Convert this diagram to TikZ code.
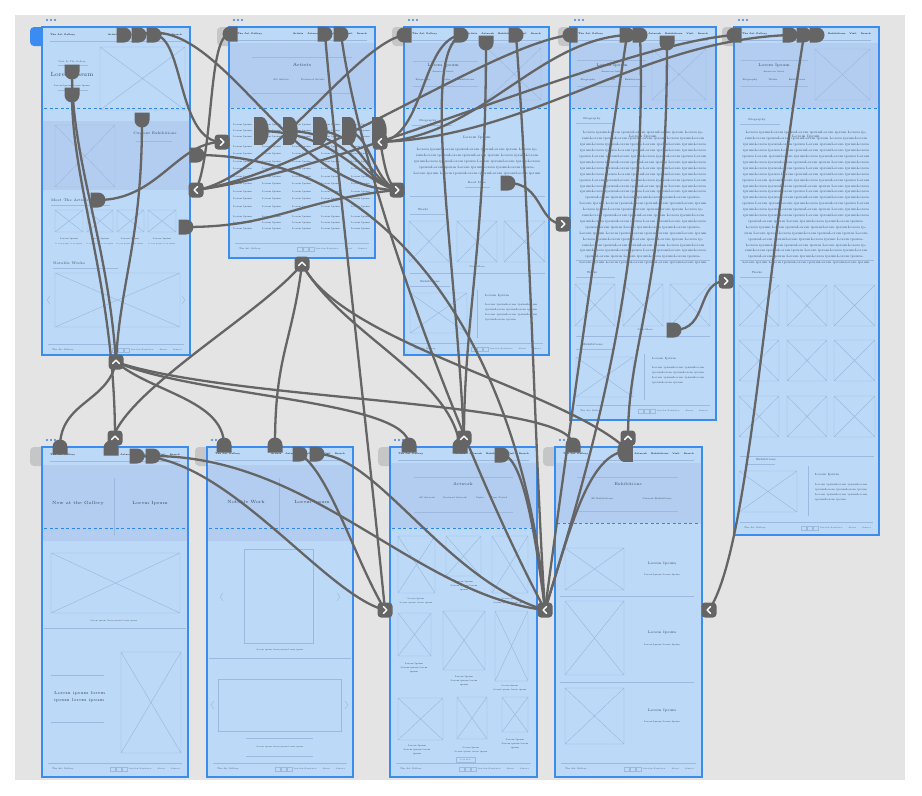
\documentclass[tikz,border=0pt]{standalone}
\usetikzlibrary{shapes.misc}
\definecolor{bgg}{HTML}{E4E4E4}
\definecolor{scrfill}{HTML}{BCD9F8}
\definecolor{scrdark}{HTML}{B2CDF0}
\definecolor{scrborder}{HTML}{3A8CF0}
\definecolor{foldc}{HTML}{2F86F2}
\definecolor{wfc}{HTML}{9CB8DE}
\definecolor{txtc}{HTML}{3E4C60}
\definecolor{mk}{HTML}{656565}
\definecolor{tabc}{HTML}{C6C6C6}
\pgfdeclarelayer{bg}
\pgfdeclarelayer{conn}
\pgfsetlayers{bg,conn,main}
\newcommand\fs[1]{\fontsize{#1}{#1}\selectfont}
\newcommand\fsp[2]{\fontsize{#1}{#2}\selectfont}
\newcommand\lips{Lorem ipsumLorem ipsumLorem ipsumLorem ipsum }
\newcommand\lipsF{\lips\lips\lips\lips}
\newcounter{tn}
\newcommand\tl[3][]{\stepcounter{tn}\node[wt,#1] (t\arabic{tn}) at (#2) {#3};}
\newcommand\ibox[4]{\draw[wfl] (#1,#2) rectangle (#3,#4) (#1,#2) -- (#3,#4) (#1,#4) -- (#3,#2);}
\newcommand\hl[3]{\draw[wfl] (#1,#3) -- (#2,#3);}
\newcommand\scrbase[5]{%
 \fill[#5, rounded corners=4pt] (#1-12,#2) rectangle (#1+4,#2+19);
 \fill[foldc] (#1+5,#2-7) circle (1.1pt) (#1+9,#2-7) circle (1.1pt) (#1+13,#2-7) circle (1.1pt);
 \fill[scrfill] (#1,#2) rectangle (#3,#4);}
\newcommand\hdr[4]{%
 \tl[wtb,anchor=west]{#1+8,#4}{The Art Gallery}
 \tl[wtb,anchor=east]{#3-8,#4}{Artists\hspace{4pt}Artwork\hspace{4pt}Exhibitions\hspace{4pt}Visit\hspace{4pt}Search}
 \draw[wfl, line width=0.8pt] (#1+8,#4+6) -- (#3-8,#4+6);}
\newcommand\ftr[3]{%
 \hl{#1+6}{#2-6}{#3}
 \tl[font=\fs{2.2},anchor=west]{#1+10,#3+6}{The Art Gallery}
 \draw[wfl] (#2-78,#3+4) rectangle ++(5,4) ++(1,-4) rectangle ++(5,4) ++(1,-4) rectangle ++(5,4);
 \tl[font=\fs{1.9},anchor=east]{#2-8,#3+6}{Join Our Newsletter\hspace{6pt}About\hspace{6pt}Contact}}
\newcommand\bR[3]{\node[badge] (#1) at (#2,#3) {}; \draw[chev] ([shift={(-1.6,-3.4)}]#1.center) -- ++(3.4,3.4) -- ++(-3.4,3.4);}
\newcommand\bL[3]{\node[badge] (#1) at (#2,#3) {}; \draw[chev] ([shift={(1.6,-3.4)}]#1.center) -- ++(-3.4,3.4) -- ++(3.4,3.4);}
\newcommand\bU[3]{\node[badge] (#1) at (#2,#3) {}; \draw[chev] ([shift={(-3.4,1.6)}]#1.center) -- ++(3.4,-3.4) -- ++(3.4,3.4);}
\newcommand\tallR[4]{\node[rectangle, fill=mk, minimum width=8pt, minimum height=#4, inner sep=0pt] (#1) at (#2-3.5,#3) {};
 \fill[mk] (#1.east) ellipse [x radius=7pt, y radius=#4/2];}
\newcommand\tallL[4]{\node[rectangle, fill=mk, minimum width=8pt, minimum height=#4, inner sep=0pt] (#1) at (#2+3.5,#3) {};
 \fill[mk] (#1.west) ellipse [x radius=7pt, y radius=#4/2];}
\newcommand\larr[2]{\draw[wfl] (#1+2,#2-4) -- (#1-1,#2) -- (#1+2,#2+4);}
\newcommand\rarr[2]{\draw[wfl] (#1-2,#2-4) -- (#1+1,#2) -- (#1-2,#2+4);}
\tikzset{
 wt/.style={inner sep=0pt, text=txtc, font=\fs{2.6}},
 wtb/.style={text=black!85, font=\bfseries\fs{2.3}},
 wfl/.style={draw=wfc, line width=0.45pt},
 fold/.style={draw=foldc, line width=0.9pt, dash pattern=on 3pt off 2.5pt},
 scrb/.style={draw=scrborder, line width=1.2pt},
 mkR/.style={rounded rectangle, rounded rectangle left arc=none, fill=mk, minimum width=15pt, minimum height=15pt, inner sep=0pt, outer sep=0pt},
 mkL/.style={rounded rectangle, rounded rectangle right arc=none, fill=mk, minimum width=15pt, minimum height=15pt, inner sep=0pt, outer sep=0pt},
 mkU/.style={mkR, rotate=-90},
 mkN/.style={mkR, rotate=90},
 badge/.style={rectangle, rounded corners=3.5pt, fill=mk, minimum size=15pt, inner sep=0pt},
 chev/.style={draw=white, line width=1.4pt, line cap=round, line join=round},
 conn/.style={draw=mk, line width=2.3pt},
}
\begin{document}
\begin{tikzpicture}[x=1pt,y=-1pt]
\useasboundingbox (0,0) rectangle (922,796);
\begin{pgfonlayer}{bg}
\fill[white] (0,0) rectangle (922,796);
\fill[bgg] (15,15) rectangle (905,780);
% ---------- S1 ----------
\scrbase{42}{27}{190}{355}{scrborder}
\hdr{42}{27}{190}{35}
\ibox{100}{47}{185}{110}
\tl[font=\fs{2.2}]{72,62}{Visit At The Gallery}
\hl{58}{88}{65}
\tl[font=\fs{6}]{72,75}{Lorem Ipsum}
\tl[font=\fs{2.2}]{72,86}{Lorem Ipsum Lorem Ipsum}
\hl{58}{88}{90}
\draw[fold] (44,108) -- (188,108);
\fill[scrdark] (43,121) rectangle (189,190);
\ibox{55}{125}{115}{187}
\tl[font=\fs{3.6}]{155,133}{Current Exhibitions}
\hl{136}{172}{141}
\tl[font=\fs{3.6},anchor=west]{51,200}{Meet The Artists}
\hl{51}{110}{205}
\ibox{55}{210}{83}{232}\ibox{87}{210}{113}{232}\ibox{117}{210}{144}{232}\ibox{148}{210}{176}{232}
\foreach \cx in {69,100,130,162}{\tl[font=\fs{2.3}]{\cx,239}{Lorem Ipsum}\tl[font=\fs{1.7}]{\cx,244}{Lorem ipsum lorem ipsum}}
\tl[font=\fs{3.6},anchor=west]{53,263}{Notable Works}
\hl{53}{118}{268}
\ibox{55}{273}{180}{327}
\larr{48}{300}\rarr{184}{300}
\ftr{42}{190}{344}
\draw[scrb] (42,27) rectangle (190,355);
% ---------- S2 ----------
\scrbase{229}{27}{375}{258}{tabc}
\fill[scrdark] (230,43) rectangle (374,108);
\hdr{229}{27}{375}{34}
\hl{252}{352}{57}
\tl[font=\fs{4.5}]{302,65}{Artists}
\tl[font=\fs{2.4}]{281,80}{All Artists}
\tl[font=\fs{2.4}]{313,80}{Featured Artists}
\hl{252}{352}{93}
\draw[fold] (231,108) -- (373,108);
\foreach \cx in {233,262,292,321,351}{\foreach \cy in {125,131,137,147,154,162,169,177,184,192,199,207,217,223,229}{\tl[anchor=west,font=\fs{2.4}]{\cx,\cy}{Lorem Ipsum}}}
\ftr{229}{375}{243}
\draw[scrb] (229,27) rectangle (375,258);
% ---------- S3 ----------
\scrbase{404}{27}{549}{355}{tabc}
\fill[scrdark] (405,43) rectangle (548,108);
\hdr{404}{27}{549}{34}
\ibox{487}{48}{541}{100}
\hl{413}{478}{61}
\tl[font=\fs{4}]{443,66}{Lorem Ipsum}
\tl[font=\fs{2.2}]{443,71.5}{American Artist}
\tl[font=\fs{2.4}]{423,80}{Biography}\tl[font=\fs{2.4}]{446,80}{Works}\tl[font=\fs{2.4}]{466,80}{Exhibitions}
\hl{413}{478}{86}
\draw[fold] (406,108) -- (547,108);
\tl[font=\fs{2.8}]{428,121}{Biography}
\hl{412}{452}{125}
\tl[font=\fs{3.5}]{477,138}{Lorem Ipsum}
\tl[font=\fsp{3.3}{6},text width=128pt,align=center]{477,162}{\lips\lips\lips\lips\lips\lips}
\tl[font=\fs{2.8}]{477,183}{Read More}
\hl{465}{490}{187}
\hl{410}{545}{196}
\tl[font=\fs{2.8}]{423,210}{Works}
\hl{410}{445}{214}
\ibox{409}{221}{449}{262}\ibox{457}{221}{497}{262}\ibox{504}{221}{545}{262}
\tl[font=\fs{2.4}]{477,267}{View More}
\hl{410}{545}{273}
\tl[font=\fs{2.8}]{430,282}{Exhibitions}
\hl{410}{450}{286}
\ibox{410}{293}{467}{333}
\draw[wfl] (477,290) -- (477,338);
\tl[font=\fs{3},anchor=west]{485,296}{Lorem Ipsum}
\tl[font=\fsp{2.7}{5},anchor=north west,align=left]{485,303}{Lorem ipsumLorem ipsumLorem\\ipsumLorem ipsumLorem ipsum\\Lorem ipsumLorem ipsumLorem\\ipsumLorem ipsum}
\ftr{404}{549}{343}
\draw[scrb] (404,27) rectangle (549,355);
% ---------- S4 ----------
\scrbase{570}{27}{716}{420}{tabc}
\fill[scrdark] (571,43) rectangle (715,108);
\hdr{570}{27}{716}{34}
\ibox{652}{49}{706}{100}
\hl{577}{646}{60}
\tl[font=\fs{4}]{612,66}{Lorem Ipsum}
\tl[font=\fs{2.2}]{612,71.5}{American Artist}
\tl[font=\fs{2.4}]{588,80}{Biography}\tl[font=\fs{2.4}]{611,80}{Works}\tl[font=\fs{2.4}]{633,80}{Exhibitions}
\hl{577}{646}{86}
\draw[fold] (572,108) -- (714,108);
\tl[font=\fs{2.8}]{592,119}{Biography}
\hl{576}{615}{123}
\tl[font=\fs{3.5}]{643,137}{Lorem Ipsum}
\tl[font=\fsp{3.3}{5.9},text width=134pt,align=center]{643,198}{\lipsF\lipsF\lipsF\lipsF\lipsF\lipsF\lipsF}
\hl{576}{710}{260}
\tl[font=\fs{2.8}]{592,273}{Works}
\hl{576}{615}{277}
\ibox{575}{284}{615}{326}\ibox{623}{284}{663}{326}\ibox{670}{284}{710}{326}
\tl[font=\fs{2.4}]{645,330}{View More}
\hl{576}{710}{336}
\tl[font=\fs{2.8}]{593,345}{Exhibitions}
\hl{576}{615}{349}
\ibox{576}{357}{633}{397}
\draw[wfl] (644,354) -- (644,400);
\tl[font=\fs{3},anchor=west]{652,359}{Lorem Ipsum}
\tl[font=\fsp{2.7}{5},anchor=north west,align=left]{652,366}{Lorem ipsumLorem ipsumLorem\\ipsumLorem ipsumLorem ipsum\\Lorem ipsumLorem ipsumLorem\\ipsumLorem ipsum}
\ftr{570}{716}{405}
\draw[scrb] (570,27) rectangle (716,420);
% ---------- S5 ----------
\scrbase{734}{27}{879}{535}{tabc}
\fill[scrdark] (735,43) rectangle (878,108);
\hdr{734}{27}{879}{34}
\ibox{815}{49}{870}{100}
\hl{741}{808}{60}
\tl[font=\fs{4}]{774,66}{Lorem Ipsum}
\tl[font=\fs{2.2}]{774,71.5}{American Artist}
\tl[font=\fs{2.4}]{750,80}{Biography}\tl[font=\fs{2.4}]{773,80}{Works}\tl[font=\fs{2.4}]{797,80}{Exhibitions}
\hl{741}{808}{86}
\draw[fold] (736,108) -- (877,108);
\tl[font=\fs{2.8}]{757,120}{Biography}
\hl{740}{780}{124}
\tl[font=\fs{3.5}]{806,137}{Lorem Ipsum}
\tl[font=\fsp{3.3}{5.9},text width=132pt,align=center]{806,198}{\lipsF\lipsF\lipsF\lipsF\lipsF\lipsF\lipsF}
\hl{740}{874}{260}
\tl[font=\fs{2.8}]{757,273}{Works}
\hl{740}{775}{277}
\foreach \ry in {285,340,396}{\ibox{739}{\ry}{779}{\ry+41}\ibox{787}{\ry}{827}{\ry+41}\ibox{834}{\ry}{875}{\ry+41}}
\hl{740}{874}{456}
\tl[font=\fs{2.8}]{766,460}{Exhibitions}
\hl{745}{775}{464}
\ibox{739}{471}{797}{512}
\draw[wfl] (808,466) -- (808,516);
\tl[font=\fs{3},anchor=west]{815,475}{Lorem Ipsum}
\tl[font=\fsp{2.7}{5},anchor=north west,align=left]{815,483}{Lorem ipsumLorem ipsumLorem\\ipsumLorem ipsumLorem ipsum\\Lorem ipsumLorem ipsumLorem\\ipsumLorem ipsum}
\ftr{734}{879}{522}
\draw[scrb] (734,27) rectangle (879,535);
% ---------- S6 ----------
\scrbase{42}{447}{188}{777}{tabc}
\fill[scrdark] (43,465) rectangle (187,541);
\hdr{42}{447}{188}{455}
\draw[wfl] (114,478) -- (114,535);
\tl[font=\fs{4.5}]{78,503}{New at the Gallery}
\tl[font=\fs{4.5}]{150,503}{Lorem Ipsum}
\draw[fold] (44,528) -- (186,528);
\ibox{51}{553}{180}{613}
\tl[font=\fs{2}]{114,621}{Lorem ipsum lorem ipsum lorem ipsum}
\hl{44}{186}{628}
\hl{51}{104}{675}
\tl[font=\fsp{4.4}{7},align=left,anchor=west]{54,697}{Lorem ipsum lorem\\ipsum lorem ipsum}
\hl{51}{104}{722}
\ibox{121}{652}{181}{753}
\ftr{42}{188}{763}
\draw[scrb] (42,447) rectangle (188,777);
% ---------- S7 ----------
\scrbase{207}{447}{353}{777}{tabc}
\fill[scrdark] (208,465) rectangle (352,541);
\hdr{207}{447}{353}{454}
\draw[wfl] (279,478) -- (279,535);
\tl[font=\fs{4.5}]{246,502}{Notable Work}
\tl[font=\fs{4.5}]{312,502}{Lorem Ipsum}
\draw[fold] (209,528) -- (351,528);
\draw[wfl] (244,549) rectangle (313,643);
\larr{221}{597}\rarr{339}{597}
\tl[font=\fs{2}]{280,650}{Lorem ipsum lorem ipsum lorem ipsum}
\hl{209}{351}{658}
\draw[wfl] (218,679) rectangle (341,731);
\larr{212}{705}\rarr{347}{705}
\hl{246}{313}{738}
\tl[font=\fs{2}]{280,747}{Lorem ipsum lorem ipsum lorem ipsum}
\hl{246}{313}{756}
\ftr{207}{353}{763}
\draw[scrb] (207,447) rectangle (353,777);
% ---------- S8 ----------
\scrbase{390}{447}{537}{777}{tabc}
\fill[scrdark] (391,463) rectangle (536,528);
\hdr{390}{447}{537}{454}
\hl{414}{513}{477}
\tl[font=\fs{4}]{463,484}{Artwork}
\tl[font=\fs{2.2}]{427,498}{All Artwork}\tl[font=\fs{2.2}]{455,498}{Featured Artwork}\tl[font=\fs{2.2}]{480,498}{Styles}\tl[font=\fs{2.2}]{499,498}{Time Period}
\hl{414}{513}{512}
\draw[fold] (392,528) -- (535,528);
\ibox{398}{536}{435}{593}\ibox{446}{536}{481}{576}\ibox{492}{536}{528}{593}
\tl[font=\fsp{2.1}{3.6},align=center]{416,601}{Lorem Ipsum\\Lorem ipsum lorem ipsum}
\tl[font=\fsp{2.3}{4},align=center]{464,586}{Lorem Ipsum\\Lorem ipsum lorem\\ipsum}
\tl[font=\fsp{2.1}{3.6},align=center]{510,601}{Lorem Ipsum\\Lorem ipsum lorem ipsum}
\ibox{398}{613}{431}{656}\ibox{443}{611}{485}{670}\ibox{495}{611}{528}{681}
\tl[font=\fsp{2.3}{4},align=center]{414,668}{Lorem Ipsum\\Lorem ipsum lorem\\ipsum}
\tl[font=\fsp{2.3}{4},align=center]{464,681}{Lorem Ipsum\\Lorem ipsum lorem\\ipsum}
\tl[font=\fsp{2.1}{3.6},align=center]{510,688}{Lorem Ipsum\\Lorem ipsum lorem ipsum}
\ibox{398}{698}{443}{740}\ibox{457}{697}{487}{739}\ibox{502}{697}{528}{732}
\tl[font=\fsp{2.3}{4},align=center]{417,750}{Lorem Ipsum\\Lorem ipsum lorem\\ipsum}
\tl[font=\fsp{2.1}{3.6},align=center]{471,750}{Lorem Ipsum\\Lorem ipsum lorem ipsum}
\tl[font=\fsp{2.3}{4},align=center]{515,744}{Lorem Ipsum\\Lorem ipsum lorem\\ipsum}
\draw[wfl] (456,757) rectangle (475,762);
\tl[font=\fs{1.6}]{465.5,759.5}{Load More}
\ftr{390}{537}{763}
\draw[scrb] (390,447) rectangle (537,777);
% ---------- S9 ----------
\scrbase{555}{447}{702}{777}{tabc}
\fill[scrdark] (556,463) rectangle (701,523);
\hdr{555}{447}{702}{454}
\hl{577}{678}{477}
\tl[font=\fs{4}]{628,484}{Exhibitions}
\tl[font=\fs{2.4}]{602,499}{All Exhibitions}\tl[font=\fs{2.4}]{657,499}{Current Exhibitions}
\hl{577}{678}{511}
\draw[fold] (557,523) -- (700,523);
\ibox{565}{548}{624}{590}
\tl[font=\fs{3.6}]{662,564}{Lorem Ipsum}\tl[font=\fs{2.2}]{662,575}{Lorem Ipsum Lorem Ipsum}
\hl{560}{694}{596}
\ibox{565}{601}{624}{675}
\tl[font=\fs{3.6}]{662,633}{Lorem Ipsum}\tl[font=\fs{2.2}]{662,645}{Lorem Ipsum Lorem Ipsum}
\hl{560}{694}{682}
\ibox{565}{688}{624}{744}
\tl[font=\fs{3.6}]{662,711}{Lorem Ipsum}\tl[font=\fs{2.2}]{662,722}{Lorem Ipsum Lorem Ipsum}
\ftr{555}{702}{763}
\draw[scrb] (555,447) rectangle (702,777);
\end{pgfonlayer}
% ---------- hotspot markers ----------
\node[mkR] (m1a) at (124,35) {};
\node[mkR] (m1b) at (139,35) {};
\node[mkR] (m1c) at (154,35) {};
\node[mkU] (m1d) at (72,72) {};
\node[mkU] (m1e) at (72,95) {};
\node[mkU] (m1f) at (142,120) {};
\node[mkR] (m1g) at (197,155) {};
\node[mkR] (m1h) at (98,200) {};
\node[mkR] (m1i) at (186,227) {};
\node[mkL] (m2a) at (230,34) {};
\node[mkR] (m2b) at (325,34) {};
\node[mkR] (m2c) at (341,34) {};
\tallR{m2d}{261}{131}{28pt}
\tallR{m2e}{290}{131}{28pt}
\tallR{m2f}{320}{131}{28pt}
\tallR{m2g}{349}{131}{28pt}
\tallR{m2h}{379}{131}{28pt}
\node[mkL] (m3a) at (404,35) {};
\node[mkR] (m3b) at (461,35) {};
\node[mkU] (m3c) at (486,43) {};
\node[mkR] (m3d) at (516,35) {};
\node[mkR] (m3e) at (508,183) {};
\node[mkL] (m4a) at (570,35) {};
\node[mkR] (m4b) at (627,35) {};
\node[mkR] (m4c) at (640,35) {};
\node[mkU] (m4d) at (667,43) {};
\node[mkR] (m4e) at (674,330) {};
\node[mkL] (m5a) at (734,35) {};
\node[mkR] (m5b) at (790,35) {};
\node[mkR] (m5c) at (804,35) {};
\node[mkR] (m5d) at (817,35) {};
\node[mkN] (m6a) at (60,447) {};
\node[mkN] (m6b) at (111,448) {};
\node[mkR] (m6c) at (137,456) {};
\node[mkR] (m6d) at (153,456) {};
\node[mkN] (m7a) at (224,445) {};
\node[mkN] (m7b) at (275,445) {};
\node[mkR] (m7c) at (300,454) {};
\node[mkR] (m7d) at (317,454) {};
\node[mkN] (m8a) at (409,445) {};
\node[mkN] (m8b) at (460,446) {};
\node[mkR] (m8c) at (502,455) {};
\node[mkN] (m9a) at (573,445) {};
\tallL{m9b}{625}{451}{22pt}
% ---------- badges ----------
\bR{bS2in}{222}{142}
\bL{bS2bk}{380}{142}
\bR{bS3in}{397}{190}
\bL{bS1bk}{196}{190}
\bU{bS2up}{302}{264}
\bU{bH}{116}{362}
\bR{bS4in}{563}{224}
\bR{bS5in}{726}{281}
\bR{bS8in}{385}{610}
\bL{bS9in}{545}{610}
\bL{bS9r}{709}{610}
\bU{bS6t}{115}{438}
\bU{bS8t}{464}{438}
\bU{bS9t}{628}{438}
% ---------- connectors ----------
\begin{pgfonlayer}{conn}
% home
\draw[conn] (m2a.center) .. controls +(-22,0) and +(18,-40) .. (bS1bk.center);
\draw[conn] (m3a.center) .. controls +(-50,10) and +(70,-10) .. (bS1bk.center);
\draw[conn] (m4a.center) .. controls +(-80,10) and +(110,-15) .. (bS1bk.center);
\draw[conn] (m5a.center) .. controls +(-120,10) and +(150,-20) .. (bS1bk.center);
\draw[conn] (m6a.center) .. controls +(0,-45) and +(-8,40) .. (bH.center);
\draw[conn] (m7a.center) .. controls +(0,-45) and +(35,30) .. (bH.center);
\draw[conn] (m8a.center) .. controls +(0,-45) and +(80,35) .. (bH.center);
\draw[conn] (m9a.center) .. controls +(0,-45) and +(120,40) .. (bH.center);
\draw[conn] (m1d.center) .. controls +(0,90) and +(-8,-120) .. (bH.center);
\draw[conn] (m1e.center) .. controls +(0,90) and +(0,-150) .. (bS6t.center);
\draw[conn] (m1f.center) .. controls +(0,120) and +(4,-80) .. (bH.center);
% artists
\draw[conn] (m1c.center) .. controls +(30,0) and +(-45,0) .. (bS2in.center);
\draw[conn] (m1h.center) .. controls +(60,0) and +(-45,0) .. (bS2in.center);
\draw[conn] (m3b.center) .. controls +(-40,5) and +(45,-5) .. (bS2bk.center);
\draw[conn] (m4b.center) .. controls +(-90,5) and +(100,-5) .. (bS2bk.center);
\draw[conn] (m5b.center) .. controls +(-150,5) and +(150,-5) .. (bS2bk.center);
\draw[conn] (m6b.center) .. controls +(0,-50) and +(-40,50) .. (bS2up.center);
\draw[conn] (m7b.center) .. controls +(0,-90) and +(-10,80) .. (bS2up.center);
\draw[conn] (m8b.center) .. controls +(-10,-70) and +(40,70) .. (bS2up.center);
\draw[conn] (m9b.center) .. controls +(-60,-60) and +(40,80) .. (bS2up.center);
% artist detail
\draw[conn] (m1b.center) .. controls +(80,-25) and +(-110,0) .. (bS3in.center);
\draw[conn] (m2d.center) .. controls +(80,0) and +(-40,-10) .. (bS3in.center);
\draw[conn] (m2e.center) .. controls +(65,0) and +(-35,-10) .. (bS3in.center);
\draw[conn] (m2f.center) .. controls +(45,0) and +(-30,-10) .. (bS3in.center);
\draw[conn] (m2g.center) .. controls +(25,0) and +(-25,-10) .. (bS3in.center);
\draw[conn] (m2h.center) .. controls +(8,10) and +(-15,-10) .. (bS3in.center);
\draw[conn] (m1i.center) .. controls +(90,0) and +(-100,10) .. (bS3in.center);
% read more
\draw[conn] (m3e.center) .. controls +(35,0) and +(-25,0) .. (bS4in.center);
\draw[conn] (m4e.center) .. controls +(35,0) and +(-30,0) .. (bS5in.center);
% artwork
\draw[conn] (m6c.center) .. controls +(90,0) and +(-60,-15) .. (bS8in.center);
\draw[conn] (m7c.center) .. controls +(30,20) and +(-30,-50) .. (bS8in.center);
\draw[conn] (m2b.center) .. controls +(10,120) and +(-20,-200) .. (bS8in.center);
% exhibitions
\draw[conn] (m1g.center) .. controls +(200,0) and +(-20,-250) .. (bS9in.center);
\draw[conn] (m6d.center) .. controls +(160,0) and +(-130,-15) .. (bS9in.center);
\draw[conn] (m7d.center) .. controls +(60,0) and +(-100,-30) .. (bS9in.center);
\draw[conn] (m8c.center) .. controls +(20,0) and +(-10,-80) .. (bS9in.center);
\draw[conn] (m2c.center) .. controls +(20,150) and +(-80,-150) .. (bS9in.center);
\draw[conn] (m3d.center) .. controls +(15,200) and +(-10,-150) .. (bS9in.center);
\draw[conn] (m4b.center) .. controls +(-30,200) and +(20,-150) .. (bS9in.center);
\draw[conn] (m4c.center) .. controls +(10,250) and +(30,-100) .. (bS9in.center);
\draw[conn] (m9b.center) .. controls +(-40,0) and +(25,-80) .. (bS9in.center);
\draw[conn] (m5c.center) .. controls +(-40,250) and +(40,-60) .. (bS9r.center);
% top badges
\draw[conn] (m3c.center) .. controls +(0,200) and +(0,-120) .. (bS8t.center);
\draw[conn] (m3b.center) .. controls +(-40,20) and +(-10,-200) .. (bS8t.center);
\draw[conn] (m4d.center) .. controls +(0,250) and +(0,-100) .. (bS9t.center);
\end{pgfonlayer}
\end{tikzpicture}
\end{document}
